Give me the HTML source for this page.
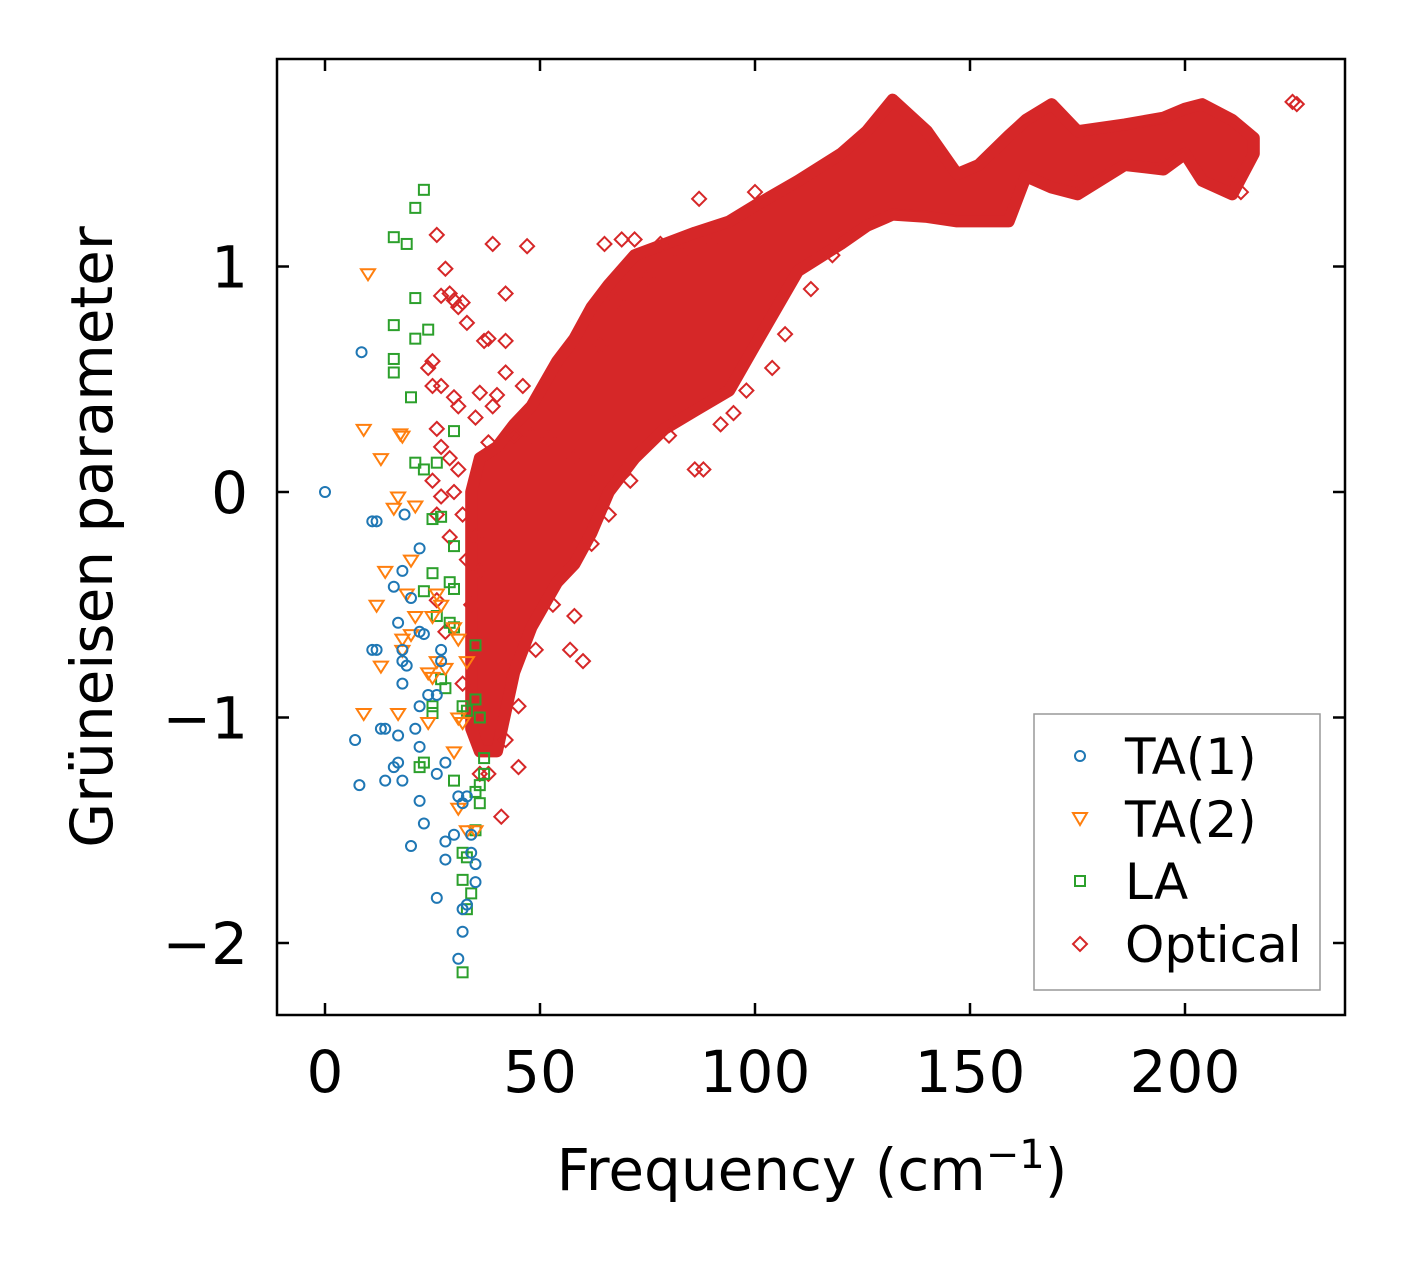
<!DOCTYPE html>
<html><head><meta charset="utf-8"><style>
html,body{margin:0;padding:0;background:#fff;}
svg text{font-family:"DejaVu Sans","Liberation Sans",sans-serif;fill:#000;}
</style></head><body>
<svg id="chart" width="1406" height="1264" xmlns="http://www.w3.org/2000/svg">
<g id="marks"></g>
<rect x="277" y="59" width="1068" height="956" fill="none" stroke="#000" stroke-width="2.5"/>
<g id="axes"></g>
<text x="812" y="1190" font-size="58" text-anchor="middle">Frequency (cm<tspan dy="-22" font-size="40">−1</tspan><tspan dy="22">)</tspan></text>
<text transform="translate(112,537) rotate(-90)" font-size="58" text-anchor="middle">Grüneisen parameter</text>
<g>
<rect x="1034" y="714" width="286" height="276" fill="#fff" stroke="#999" stroke-width="1.5"/>
<circle cx="1080" cy="756" r="5" fill="none" stroke="#1f77b4" stroke-width="2"/>
<text x="1125" y="774" font-size="50">TA(1)</text>
<path d="M1073,813 L1087,813 L1080,825 Z" fill="none" stroke="#ff7f0e" stroke-width="2"/>
<text x="1125" y="837" font-size="50">TA(2)</text>
<rect x="1075" y="876" width="10" height="10" fill="none" stroke="#2ca02c" stroke-width="2"/>
<text x="1125" y="899" font-size="50">LA</text>
<path d="M1080,937 L1087,944 L1080,951 L1073,944 Z" fill="none" stroke="#d62728" stroke-width="2"/>
<text x="1125" y="962" font-size="50">Optical</text>
</g>
</svg>
<script>
const xTicks=[0,50,100,150,200];
const yTicks=[-2,-1,0,1];
const yTickLabels=["−2","−1","0","1"];
const ta1F=[0,8.5,11,12,18.5,18,16,20,17,11,12,18,18,19,18,22,23,22,7,8,14,13,17,16,17,14,18,21,22,22,24,26,27,27,28,26,22,23,20,28,28,30,26,31,32,33,34,32,33,32,31,35,35,34];
const ta1G=[0,0.62,-0.13,-0.13,-0.1,-0.35,-0.42,-0.47,-0.58,-0.7,-0.7,-0.7,-0.75,-0.77,-0.85,-0.62,-0.63,-0.25,-1.1,-1.3,-1.05,-1.05,-1.08,-1.22,-1.2,-1.28,-1.28,-1.05,-1.13,-0.95,-0.9,-0.9,-0.7,-0.75,-1.2,-1.25,-1.37,-1.47,-1.57,-1.55,-1.63,-1.52,-1.8,-1.35,-1.38,-1.35,-1.52,-1.85,-1.83,-1.95,-2.07,-1.65,-1.73,-1.6];
const ta2F=[10,9,17.5,18,13,17,16,21,14,12,20,19,21,20,18,13,18,9,17,26,27,25,24,26,28,30,31,24,31,32,30,31,33,35,33,25];
const ta2G=[0.97,0.28,0.26,0.25,0.15,-0.02,-0.07,-0.06,-0.35,-0.5,-0.3,-0.45,-0.55,-0.63,-0.65,-0.77,-0.7,-0.98,-0.98,-0.45,-0.5,-0.55,-0.8,-0.75,-0.78,-0.6,-0.65,-1.02,-1.0,-1.02,-1.15,-1.4,-1.5,-1.5,-0.75,-0.82];
const laF=[23,21,16,19,21,16,24,21,16,16,20,30,21,23,26,27,25,30,23,25,29,30,29,30,26,27,28,25,25,23,22,32,33,35,36,37,37,36,35,36,35,32,33,32,34,33,32,30,35];
const laG=[1.34,1.26,1.13,1.1,0.86,0.74,0.72,0.68,0.59,0.53,0.42,0.27,0.13,0.1,0.13,-0.11,-0.12,-0.24,-0.44,-0.36,-0.4,-0.43,-0.58,-0.6,-0.55,-0.83,-0.87,-0.95,-0.98,-1.2,-1.22,-0.95,-0.97,-0.92,-1.0,-1.18,-1.25,-1.3,-1.33,-1.38,-1.5,-1.6,-1.62,-1.72,-1.78,-1.85,-2.13,-1.28,-0.68];
const optF=[225,226,87,100,72,65,69,78,90,39,47,26,28,29,30,31,32,27,33,42,38,37,42,25,24,25,27,42,36,40,46,39,30,31,35,26,27,29,38,44,48,52,58,62,25,27,26,35,36,26,28,32,36,38,41,45,88,86,80,92,98,107,113,118,62,57,60,66,71,213,212,195,175,64,68,75,83,95,104,58,53,49,45,42,30,32,31,33,34,29];
const optG=[1.73,1.72,1.3,1.33,1.12,1.1,1.12,1.1,1.1,1.1,1.09,1.14,0.99,0.88,0.85,0.82,0.84,0.87,0.75,0.88,0.68,0.67,0.67,0.58,0.55,0.47,0.47,0.53,0.44,0.43,0.47,0.38,0.42,0.38,0.33,0.28,0.2,0.15,0.22,0.25,0.25,0.24,0.15,0.05,0.05,-0.02,-0.1,-0.2,-0.35,-0.48,-0.62,-0.85,-1.25,-1.25,-1.44,-1.22,0.1,0.1,0.25,0.3,0.45,0.7,0.9,1.05,-0.23,-0.7,-0.75,-0.1,0.05,1.33,1.4,1.45,1.38,0.65,0.85,0.95,1.05,0.35,0.55,-0.55,-0.5,-0.7,-0.95,-1.1,0.0,-0.1,0.1,-0.3,-0.5,-0.2];
const bandF=[34,36,40,44,48,54,58,62,66,72,79,86,94,100,110,120,126,132,140,147,152,159,163,169,175,186,195,200,204,211,216];
const bandLo=[-1.05,-1.15,-1.15,-0.8,-0.6,-0.4,-0.32,-0.18,0.0,0.15,0.28,0.36,0.45,0.65,0.98,1.1,1.18,1.23,1.22,1.2,1.2,1.2,1.4,1.35,1.32,1.45,1.43,1.5,1.38,1.32,1.5];
const bandHi=[0.0,0.15,0.2,0.3,0.38,0.58,0.68,0.82,0.92,1.05,1.1,1.15,1.2,1.27,1.38,1.5,1.6,1.74,1.6,1.41,1.45,1.58,1.65,1.72,1.6,1.63,1.66,1.7,1.72,1.65,1.57];

const X=f=>325+f*4.3;
const Y=g=>492-g*225.5;
const NS="http://www.w3.org/2000/svg";
const marks=document.getElementById('marks');
const axes=document.getElementById('axes');

let d="";
bandF.forEach((f,i)=>{d+=(i?"L":"M")+X(f)+","+Y(bandHi[i]);});
for(let i=bandF.length-1;i>=0;i--)d+="L"+X(bandF[i])+","+Y(bandLo[i]);
d+="Z";
const band=document.createElementNS(NS,'path');


band.setAttribute('d',d);
band.setAttribute('fill','#d62728');
band.setAttribute('stroke','#d62728');
band.setAttribute('stroke-width','12');
band.setAttribute('stroke-linejoin','round');
marks.appendChild(band);

function mk(tag,attrs){const e=document.createElementNS(NS,tag);for(const k in attrs)e.setAttribute(k,attrs[k]);return e;}
optF.forEach((f,i)=>{
  const x=X(f),y=Y(optG[i]);
  const e=mk('path',{d:`M${x},${y-7} L${x+7},${y} L${x},${y+7} L${x-7},${y} Z`,fill:'none',stroke:'#d62728','stroke-width':2});
  
  
  marks.appendChild(e);
});
laF.forEach((f,i)=>{
  const x=X(f),y=Y(laG[i]);
  const e=mk('rect',{x:x-5,y:y-5,width:10,height:10,fill:'none',stroke:'#2ca02c','stroke-width':2});
  
  
  marks.appendChild(e);
});
ta2F.forEach((f,i)=>{
  const x=X(f),y=Y(ta2G[i]);
  const e=mk('path',{d:`M${x-7},${y-4} L${x+7},${y-4} L${x},${y+7} Z`,fill:'none',stroke:'#ff7f0e','stroke-width':2});
  
  
  marks.appendChild(e);
});
ta1F.forEach((f,i)=>{
  const e=mk('circle',{cx:X(f),cy:Y(ta1G[i]),r:5,fill:'none',stroke:'#1f77b4','stroke-width':2});
  
  
  marks.appendChild(e);
});

xTicks.forEach(t=>{
  const x=X(t);
  const a=mk('line',{x1:x,x2:x,y1:1015,y2:1003,stroke:'#000','stroke-width':2.5});
  
  
  axes.appendChild(a);
  const b=mk('line',{x1:x,x2:x,y1:59,y2:71,stroke:'#000','stroke-width':2.5});
  
  
  axes.appendChild(b);
  const l=mk('text',{x:x,y:1092,'font-size':58,'text-anchor':'middle'});
  l.textContent=String(t);
  
  
  axes.appendChild(l);
});
yTicks.forEach((t,i)=>{
  const y=Y(t);
  const a=mk('line',{x1:277,x2:289,y1:y,y2:y,stroke:'#000','stroke-width':2.5});
  
  
  axes.appendChild(a);
  const b=mk('line',{x1:1333,x2:1345,y1:y,y2:y,stroke:'#000','stroke-width':2.5});
  
  
  axes.appendChild(b);
  const l=mk('text',{x:248,y:y+21,'font-size':58,'text-anchor':'end'});
  l.textContent=yTickLabels[i];
  
  
  axes.appendChild(l);
});
</script>
</body></html>
